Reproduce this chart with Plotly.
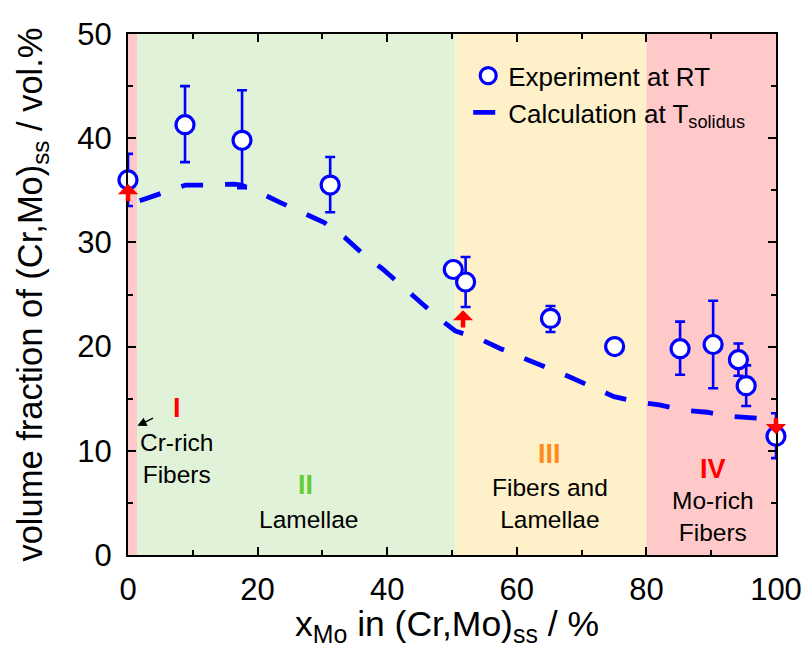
import plotly.graph_objects as go

# ---- data ----
exp_x = [0, 8.8, 17.6, 31.2, 50.2, 52.1, 65.2, 75.1, 85.2, 90.3, 94.2, 95.4, 100]
exp_y = [36.0, 41.3, 39.8, 35.5, 27.4, 26.2, 22.7, 20.0, 19.8, 20.2, 18.75, 16.25, 11.4]
err_plus = [2.5, 3.7, 4.8, 2.7, 0.0, 2.4, 1.2, 0.0, 2.6, 4.2, 1.55, 1.95, 2.2]
err_minus = [2.5, 3.6, 4.6, 2.6, 0.0, 2.4, 1.3, 0.0, 2.5, 4.2, 1.55, 1.95, 2.1]

calc_x = [1.8, 5.3, 8.9, 12.4, 16.4, 17.5, 19.9, 23.6, 26.7, 30.3, 33.4, 36.5, 39.2,
          42.1, 44.7, 47.8, 50.5, 54.4, 57.5, 61.2, 64.4, 68.1, 71.4, 75.0, 78.2,
          82.0, 85.6, 89.4, 92.9, 96.9, 100]
calc_y = [34.0, 34.7, 35.5, 35.5, 35.6, 35.5, 34.9, 33.8, 32.9, 31.9, 30.5, 28.75, 27.5,
          25.9, 24.5, 22.8, 21.5, 20.7, 19.8, 18.9, 18.0, 17.1, 16.2, 15.2, 14.75,
          14.4, 13.9, 13.7, 13.3, 13.1, 13.0]

# region boundaries (x in %) and colours
region_bounds = [0, 1.4, 50.5, 80, 100]
region_colors = ["#ffc9c9", "#e0f3d9", "#fef0c9", "#ffc9c9"]

# region labels
roman_text = ["I", "II", "III", "IV"]
roman_color = ["#ff0000", "#66cc33", "#ff8c1a", "#ff0000"]
roman_x = [7.6, 27.4, 65.1, 90.3]
roman_y = [14.1, 6.7, 9.7, 8.3]
desc_text = ["Cr-rich<br>Fibers", "Lamellae", "Fibers and<br>Lamellae", "Mo-rich<br>Fibers"]
desc_x = [7.6, 27.9, 65.1, 90.3]
desc_y = [9.3, 3.4, 4.95, 3.65]

# red arrows (tip / tail)
arrow_x = [0, 51.7, 100]
arrow_tip_y = [35.6, 23.5, 11.6]
arrow_tail_y = [33.8, 21.7, 13.3]

x_title = 'x<sub>Mo</sub> in (Cr,Mo)<sub>ss</sub> / %'
y_title = "volume fraction of (Cr,Mo)<sub>ss</sub> / vol.%"

FONT = "Liberation Sans, Arial, sans-serif"

fig = go.Figure()

for i in range(4):
    fig.add_shape(type="rect", xref="x", yref="y",
                  x0=region_bounds[i], x1=region_bounds[i + 1], y0=0, y1=50,
                  fillcolor=region_colors[i], line_width=0, layer="below")

fig.add_trace(go.Scatter(
    x=calc_x, y=calc_y, mode="lines",
    name="Calculation at T<sub>solidus</sub>",
    line=dict(color="#0000ff", width=4.8, dash="22px,22px"),
    cliponaxis=False,
))

fig.add_trace(go.Scatter(
    x=exp_x, y=exp_y, mode="markers",
    name="Experiment at RT",
    marker=dict(symbol="circle", size=18, color="white",
                line=dict(color="#0000ff", width=3.2)),
    error_y=dict(type="data", symmetric=False, array=err_plus, arrayminus=err_minus,
                 color="#0000ff", thickness=2.6, width=5),
    cliponaxis=False,
))

for i in range(4):
    fig.add_annotation(x=roman_x[i], y=roman_y[i], xref="x", yref="y",
                       text="<b>%s</b>" % roman_text[i], showarrow=False,
                       font=dict(family=FONT, size=27, color=roman_color[i]))
    fig.add_annotation(x=desc_x[i], y=desc_y[i], xref="x", yref="y",
                       text=desc_text[i], showarrow=False,
                       font=dict(family=FONT, size=24.5, color="black"))

for i in range(3):
    fig.add_annotation(x=arrow_x[i], y=arrow_tip_y[i], ax=arrow_x[i], ay=arrow_tail_y[i],
                       xref="x", yref="y", axref="x", ayref="y", text="",
                       showarrow=True, arrowhead=1, arrowsize=0.75, arrowwidth=4.5,
                       arrowcolor="#ff0000")

fig.add_annotation(x=1.45, y=12.4, ax=4.1, ay=13.2, xref="x", yref="y",
                   axref="x", ayref="y", text="", showarrow=True, arrowhead=2,
                   arrowsize=1.3, arrowwidth=1.4, arrowcolor="black")

# x-axis title as a paper-anchored text, placed just below the tick labels
fig.add_annotation(x=0.492, y=-0.092, xref="paper", yref="paper",
                   xanchor="center", yanchor="top", text=x_title, showarrow=False,
                   borderpad=0,
                   font=dict(family=FONT, size=35.5, color="black"))

axis_common = dict(showline=True, linecolor="black", linewidth=2, mirror="allticks",
                   ticks="inside", ticklen=8, tickwidth=2, tickcolor="black",
                   showgrid=False, zeroline=False, automargin=False,
                   tickfont=dict(family=FONT, size=31, color="black"))

fig.update_xaxes(range=[0, 100], dtick=20, tick0=0,
                 minor=dict(dtick=10, ticks="inside", ticklen=5, tickwidth=2, tickcolor="black"),
                 ticklabelstandoff=6,
                 **axis_common)
fig.update_yaxes(range=[0, 50], dtick=10, tick0=0,
                 minor=dict(dtick=5, ticks="inside", ticklen=5, tickwidth=2, tickcolor="black"),
                 ticklabelstandoff=8,
                 title=dict(text=y_title,
                            font=dict(family=FONT, size=34.5, color="black"), standoff=24),
                 **axis_common)

fig.update_layout(
    width=807, height=648,
    margin=dict(l=128, r=31, t=34, b=93),
    plot_bgcolor="white", paper_bgcolor="white",
    showlegend=True,
    legend=dict(x=0.525, y=0.965, xanchor="left", yanchor="top",
                bgcolor="rgba(0,0,0,0)", borderwidth=0,
                traceorder="reversed", itemwidth=30,
                font=dict(family=FONT, size=26, color="black")),
    font=dict(family=FONT),
)

fig.write_html("out.html")
